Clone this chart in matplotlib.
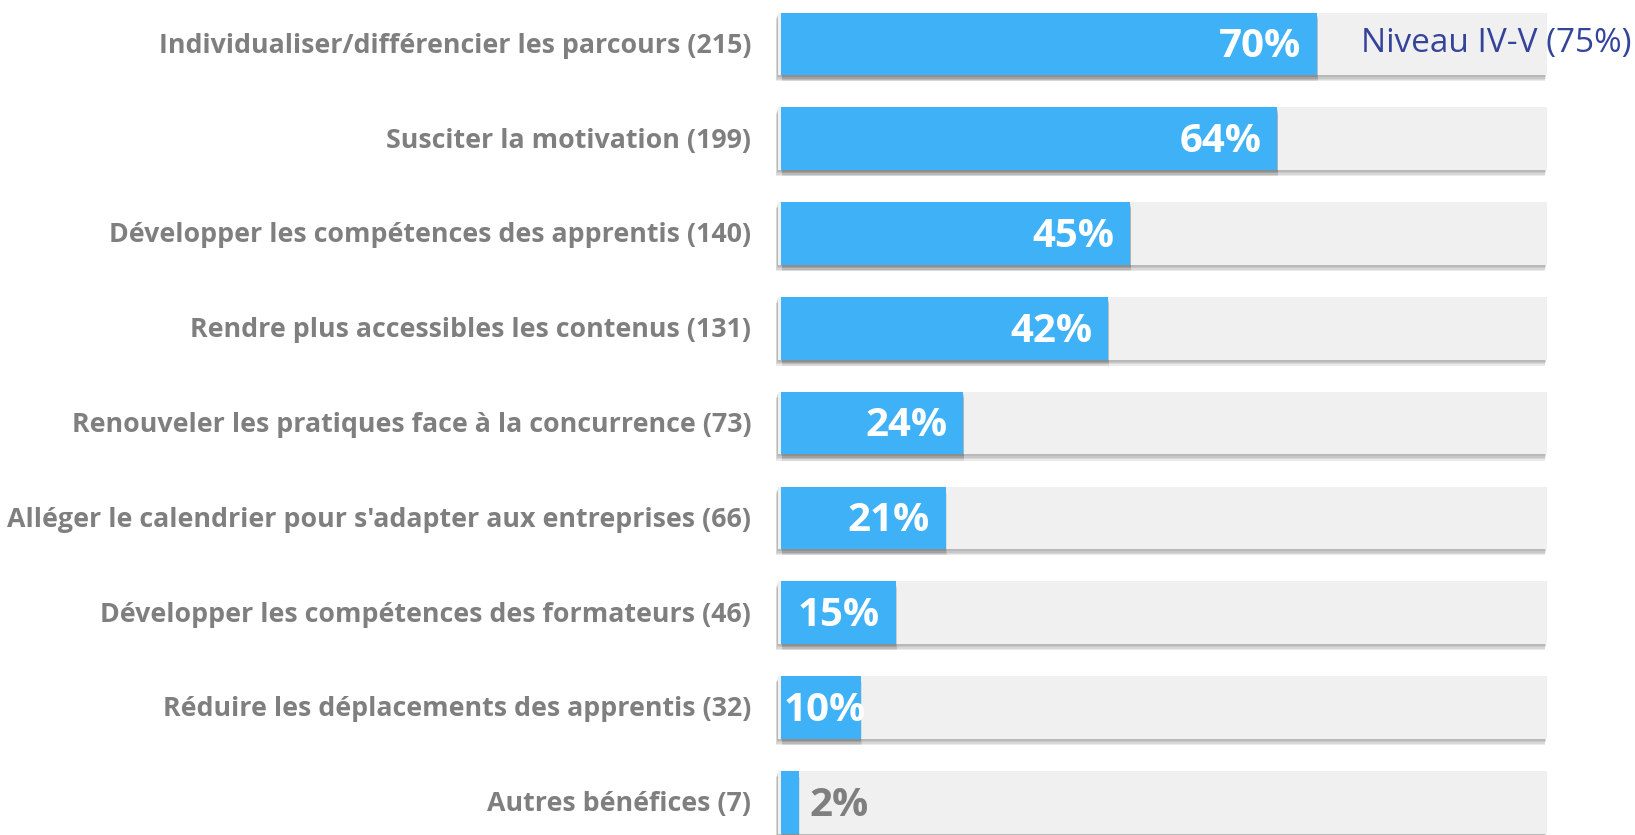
import matplotlib.pyplot as plt
import matplotlib.patheffects as pe

# data
categories = [
    "Individualiser/différencier les parcours (215)",
    "Susciter la motivation (199)",
    "Développer les compétences des apprentis (140)",
    "Rendre plus accessibles les contenus (131)",
    "Renouveler les pratiques face à la concurrence (73)",
    "Alléger le calendrier pour s'adapter aux entreprises (66)",
    "Développer les compétences des formateurs (46)",
    "Réduire les déplacements des apprentis (32)",
    "Autres bénéfices (7)",
]
shares = [70.0, 64.8, 45.6, 42.7, 23.8, 21.5, 15.0, 10.4, 2.3]
pct_labels = ["70%", "64%", "45%", "42%", "24%", "21%", "15%", "10%", "2%"]
note_text = "Niveau IV-V (75%)"

BLUE = "#3EB1F7"
TRACK = "#F0F0F0"
LABEL_GREY = "#7F7F7F"
NOTE_BLUE = "#34449A"

plt.rcParams['font.family'] = ['Open Sans', 'DejaVu Sans']

fig = plt.figure(figsize=(16.35, 8.35), dpi=100)
ax = fig.add_axes([0, 0, 1, 1])
ax.set_xlim(-102.0, 111.5)
ax.set_ylim(8.345, -0.462)
ax.axis('off')


def soft_shadow(dx):
    # a few stacked offsets give a blurred drop shadow
    fx = [pe.SimplePatchShadow(offset=(dx * k / 4, -k), shadow_rgbFace='#555555', alpha=0.12)
          for k in (4.5, 3.5, 2.5, 1.5)]
    return fx + [pe.Normal()]


y = list(range(len(categories)))
track = ax.barh(y, [100.4] * len(y), left=-0.4, height=0.66, color=TRACK, zorder=1)
for b in track:
    b.set_path_effects(soft_shadow(-1.5))
bars = ax.barh(y, shares, height=0.66, color=BLUE, zorder=2)
for b in bars:
    b.set_path_effects(soft_shadow(0.5))

for i, (cat, v, lab) in enumerate(zip(categories, shares, pct_labels)):
    ax.text(-3.9, i + 0.02, cat, ha='right', va='center', fontsize=19.3, fontweight='bold',
            color=LABEL_GREY)
    if v >= 14:
        ax.text(v - 2.1, i + 0.03, lab, ha='right', va='center', fontsize=29,
                fontweight='bold', color='white', zorder=3)
    elif v >= 5:
        ax.text(0.3, i + 0.03, lab, ha='left', va='center', fontsize=29,
                fontweight='bold', color='white', zorder=3)
    else:
        ax.text(v + 1.4, i + 0.03, lab, ha='left', va='center', fontsize=29,
                fontweight='bold', color=LABEL_GREY, zorder=3)

ax.text(75.7, 0, note_text, ha='left', va='center', fontsize=24, color=NOTE_BLUE, zorder=3)

fig.savefig("out.png", dpi=100, facecolor='white')
